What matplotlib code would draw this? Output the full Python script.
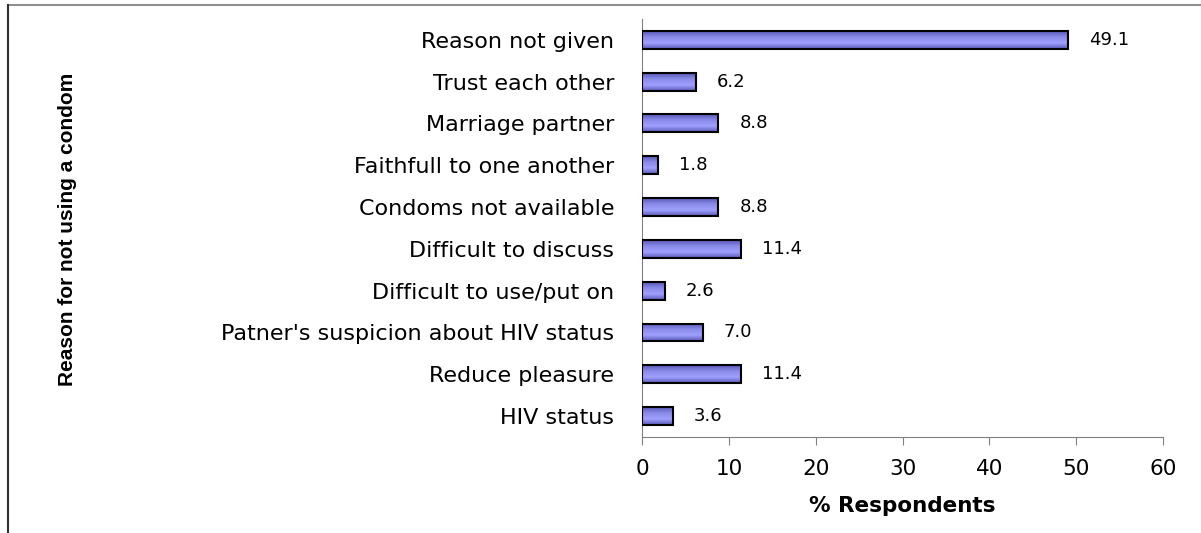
import numpy as np
import matplotlib.pyplot as plt
from matplotlib.lines import Line2D
from matplotlib.colors import LinearSegmentedColormap

# Data (bottom to top as drawn)
reasons = ['HIV status', 'Reduce pleasure', "Patner's suspicion about HIV status",
           'Difficult to use/put on', 'Difficult to discuss', 'Condoms not available',
           'Faithfull to one another', 'Marriage partner', 'Trust each other',
           'Reason not given']
percent = [3.6, 11.4, 7.0, 2.6, 11.4, 8.8, 1.8, 8.8, 6.2, 49.1]
xticks = [0, 10, 20, 30, 40, 50, 60]

fig = plt.figure(figsize=(12.01, 5.33), dpi=100)
ax = fig.add_axes([0.5346, 0.1801, 0.4338, 0.7843])

bars = ax.barh(range(len(reasons)), percent, height=0.43,
               color='#8a8ae8', edgecolor='black', linewidth=1.5, zorder=3)

# vertical shading inside each bar, like the original
shade = LinearSegmentedColormap.from_list('shade', ['#5a5ab8', '#9fa0ff', '#8a8ae8', '#5a5ab8'])
grad = np.linspace(0, 1, 64).reshape(-1, 1)
for b in bars:
    im = ax.imshow(grad, cmap=shade, aspect='auto', zorder=3.5, origin='lower',
                   extent=[b.get_x(), b.get_x() + b.get_width(),
                           b.get_y(), b.get_y() + b.get_height()])
    im.set_clip_path(b)
    b.set_facecolor('none')
    b.set_zorder(4)

for b, v in zip(bars, percent):
    ax.annotate(f'{v:.1f}', (b.get_width(), b.get_y() + b.get_height() / 2),
                xytext=(15, 0), textcoords='offset points',
                ha='left', va='center', fontsize=13, family='DejaVu Sans')

ax.set_xlim(0, 60)
ax.set_ylim(-0.5, len(reasons) - 0.5)
ax.set_xticks(xticks)
ax.set_yticks(range(len(reasons)))
ax.set_yticklabels(reasons, fontsize=16, family='DejaVu Sans')
ax.tick_params(axis='y', length=0, pad=20)
ax.tick_params(axis='x', length=6, color='#808080', direction='out',
               labelsize=15.5, pad=10)
for lab in ax.get_xticklabels():
    lab.set_family('DejaVu Sans')

for s in ['top', 'right']:
    ax.spines[s].set_visible(False)
ax.spines['left'].set_color('#808080')
ax.spines['bottom'].set_color('#808080')

ax.set_xlabel('% Respondents', fontsize=15.5, fontweight='bold',
              family='DejaVu Sans', labelpad=12)

fig.text(0.056, 0.57, 'Reason for not using a condom', rotation=90,
         ha='center', va='center', fontsize=15, fontweight='bold',
         family=['Liberation Sans', 'DejaVu Sans'])

# outer frame (top and left edge only)
fig.add_artist(Line2D([8 / 1201, 1], [1 - 5 / 533, 1 - 5 / 533],
                      transform=fig.transFigure, color='#909090', lw=1.5))
fig.add_artist(Line2D([8 / 1201, 8 / 1201], [0, 1 - 5 / 533],
                      transform=fig.transFigure, color='#303030', lw=1.5))

fig.savefig('out.png', dpi=100)
